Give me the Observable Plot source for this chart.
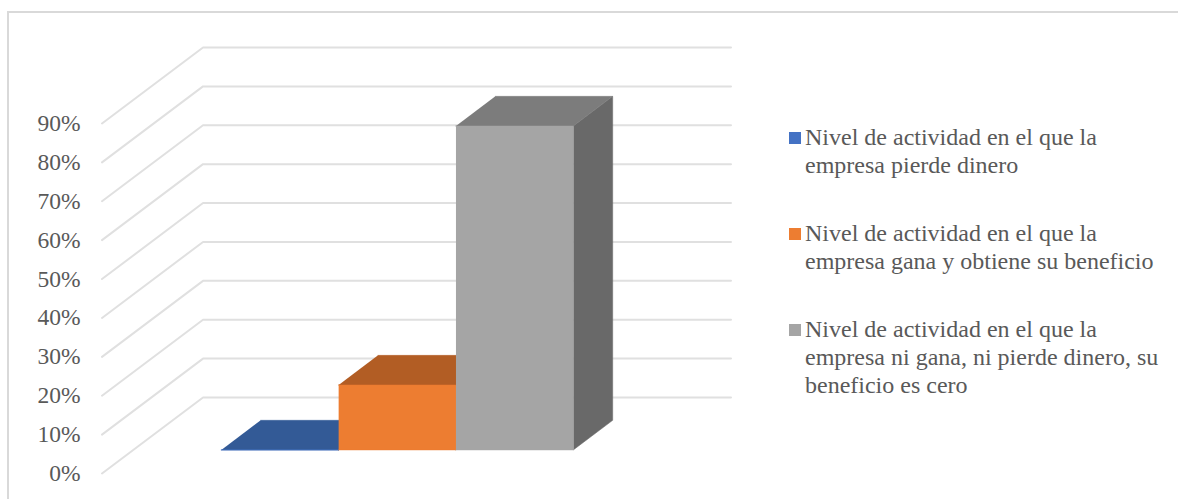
<!DOCTYPE html>
<html lang="es">
<head>
<meta charset="utf-8">
<title>Nivel de actividad de la empresa</title>
<script src="https://cdn.jsdelivr.net/npm/d3@7"></script>
<script src="https://cdn.jsdelivr.net/npm/@observablehq/plot@0.6"></script>
<style>
  html, body { margin: 0; background: #fff; overflow: hidden; }
  #chart { position: relative; width: 1178px; height: 499px; overflow: hidden; font-family: "Liberation Serif", serif; color: #595959; }
  #chart svg { position: absolute; left: 0; top: 0; }
  #frame { position: absolute; left: 7px; top: 11px; right: -10px; bottom: -10px; border: 2px solid #d9d9d9; box-sizing: border-box; }
  #legend { position: absolute; left: 789px; top: 123px; display: flex; flex-direction: column; gap: 39px; font-size: 24px; line-height: 28.4px; }
  .entry { position: relative; padding-left: 16px; white-space: nowrap; }
  .swatch { position: absolute; left: 0; top: 9px; width: 12px; height: 12px; }
</style>
</head>
<body>
<div id="chart"><div id="frame"></div></div>
<script>
// Share of answers for each activity level
const categories = [
  ["Nivel de actividad en el que la", "empresa pierde dinero"],
  ["Nivel de actividad en el que la", "empresa gana y obtiene su beneficio"],
  ["Nivel de actividad en el que la", "empresa ni gana, ni pierde dinero, su", "beneficio es cero"]
];
const values = [0, 16.7, 83.3];
const yTicks = [0, 10, 20, 30, 40, 50, 60, 70, 80, 90];

// Face colours of each column
const frontColors = ["#4472c4", "#ed7d31", "#a5a5a5"];
const topColors = ["#335a96", "#b25d24", "#7c7c7c"];
const sideColors = ["#2a4a7c", "#8f4a1d", "#696969"];

// Oblique projection: depth 0 is the front of the floor, depth 1 the back wall
const depthX = 0.861;   // category units per full depth
const depthY = 19.54;   // percentage points per full depth
const barDepth = [0.31, 0.70];
const floorX = [-0.75, 3.75];
const project = (u, v, z) => ({x: u + z * depthX, y: v + z * depthY});

const face = (points, fill) =>
  Plot.line(points.map(([u, v, z]) => project(u, v, z)), {x: "x", y: "y", fill, stroke: fill, strokeWidth: 0.5});

// Gridlines run along the side wall, then across the back wall
const gridlines = yTicks.map((t) =>
  Plot.line(
    [project(floorX[0], t, 0), project(floorX[0], t, 1), project(floorX[1], t, 1)],
    {x: "x", y: "y", stroke: "#e0e0e0", strokeWidth: 2}
  )
);

const columns = values.flatMap((v, i) => {
  const [z0, z1] = barDepth;
  return [
    face([[i + 1, 0, z0], [i + 1, 0, z1], [i + 1, v, z1], [i + 1, v, z0]], sideColors[i]),
    face([[i, v, z0], [i + 1, v, z0], [i + 1, v, z1], [i, v, z1]], topColors[i]),
    face([[i, 0, z0], [i + 1, 0, z0], [i + 1, v, z0], [i, v, z0]], frontColors[i])
  ];
});

const plot = Plot.plot({
  width: 1178,
  height: 499,
  marginLeft: 101.5,
  marginRight: 447.5,
  marginTop: 47,
  marginBottom: 26,
  style: {background: "transparent", fontFamily: "Liberation Serif, serif"},
  x: {domain: [floorX[0], floorX[1] + depthX], axis: null},
  y: {domain: [0, 90 + depthY]},
  marks: [
    ...gridlines,
    ...columns,
    Plot.axisY(yTicks, {
      anchor: "left",
      tickSize: 0,
      tickPadding: 21.5,
      label: null,
      tickFormat: (d) => d + "%",
      fontSize: 23.5,
      color: "#595959"
    })
  ]
});

const chart = document.getElementById("chart");
chart.appendChild(plot);

// Legend to the right of the plot
const legend = d3.select(chart).append("div").attr("id", "legend");
categories.forEach((lines, i) => {
  const entry = legend.append("div").attr("class", "entry");
  entry.append("span").attr("class", "swatch").style("background", frontColors[i]);
  lines.forEach((line, j) => {
    if (j) entry.append("br");
    entry.append("span").text(line);
  });
});
</script>
</body>
</html>
